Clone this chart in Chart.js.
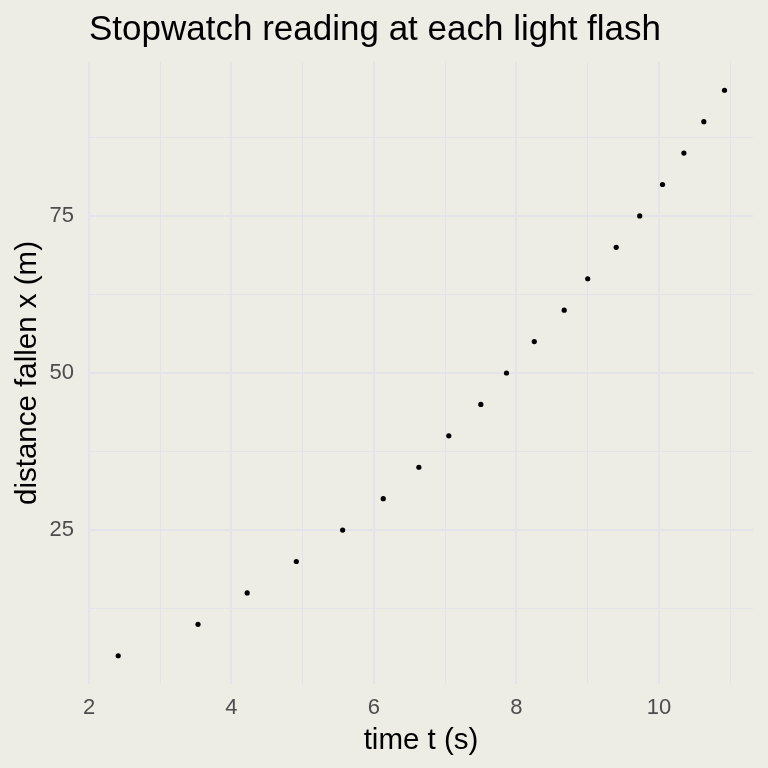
<!DOCTYPE html>
<html>
<head>
<meta charset="utf-8">
<script src="https://cdn.jsdelivr.net/npm/chart.js@4"></script>
<style>
  html, body { margin: 0; padding: 0; background: #EDEDE6; }
  #wrap { width: 768px; height: 768px; }
</style>
</head>
<body>
<div id="wrap"><canvas id="flashChart" width="768" height="768"></canvas></div>
<script>
// Readings taken off the plot: time on the stopwatch vs distance fallen
const timeSeconds = [2.41, 3.53, 4.22, 4.91, 5.56, 6.13, 6.63, 7.05, 7.50, 7.86,
                     8.25, 8.67, 9.00, 9.40, 9.73, 10.05, 10.35, 10.63, 10.92];
const distanceMeters = [5, 10, 15, 20, 25, 30, 35, 40, 45, 50,
                        55, 60, 65, 70, 75, 80, 85, 90, 95];

// grid / tick labels
const xGridValues = [2, 3, 4, 5, 6, 7, 8, 9, 10, 11];
const xTickLabels = [2, 4, 6, 8, 10];
const yGridValues = [12.5, 25, 37.5, 50, 62.5, 75, 87.5];
const yTickLabels = [25, 50, 75];

const gridColour = '#E3E3EA';
const fontName = '"Liberation Sans", Arial, Helvetica, sans-serif';

const points = timeSeconds.map((t, i) => ({ x: t, y: distanceMeters[i] }));

new Chart(document.getElementById('flashChart').getContext('2d'), {
    type: 'scatter',
    data: {
        datasets: [{
            data: points,
            backgroundColor: '#000000',
            borderWidth: 0,
            pointRadius: 2.6,
            pointHoverRadius: 2.6
        }]
    },
    options: {
        responsive: false,
        animation: false,
        layout: { padding: { top: 0, right: 15, bottom: 0, left: 0 } },
        plugins: {
            legend: { display: false },
            tooltip: { enabled: false },
            title: {
                display: true,
                text: 'Stopwatch reading at each light flash',
                align: 'start',
                fullSize: false,
                color: '#000000',
                font: { family: fontName, size: 35, weight: 'normal', lineHeight: 1.2 },
                padding: { top: 9, bottom: 11 }
            }
        },
        scales: {
            x: {
                type: 'linear',
                min: 2.0,
                max: 11.32,
                afterBuildTicks: scale => { scale.ticks = xGridValues.map(v => ({ value: v })); },
                afterFit: scale => { scale.height = 84; },
                border: { display: false },
                grid: {
                    color: gridColour,
                    drawTicks: false,
                    lineWidth: ctx => (ctx.tick && ctx.tick.value % 2 === 0 ? 2 : 1)
                },
                ticks: {
                    autoSkip: false,
                    maxRotation: 0,
                    padding: 11,
                    color: '#4D4D4D',
                    font: { family: fontName, size: 22 },
                    callback: v => (xTickLabels.includes(v) ? String(v) : '')
                },
                title: {
                    display: true,
                    text: 'time t (s)',
                    color: '#000000',
                    font: { family: fontName, size: 29.5 },
                    padding: { top: 11, bottom: 9 }
                }
            },
            y: {
                type: 'linear',
                min: 0.5,
                max: 99.5,
                afterBuildTicks: scale => { scale.ticks = yGridValues.map(v => ({ value: v })); },
                afterFit: scale => { scale.width = 89; },
                border: { display: false },
                grid: {
                    color: gridColour,
                    drawTicks: false,
                    lineWidth: ctx => (ctx.tick && yTickLabels.includes(ctx.tick.value) ? 2 : 1)
                },
                ticks: {
                    autoSkip: false,
                    padding: 15,
                    color: '#4D4D4D',
                    font: { family: fontName, size: 22 },
                    callback: v => (yTickLabels.includes(v) ? String(v) : '')
                },
                title: {
                    display: true,
                    text: 'distance fallen x (m)',
                    color: '#000000',
                    font: { family: fontName, size: 29.5 },
                    padding: { top: 10, bottom: 0 }
                }
            }
        }
    }
});
</script>
</body>
</html>
